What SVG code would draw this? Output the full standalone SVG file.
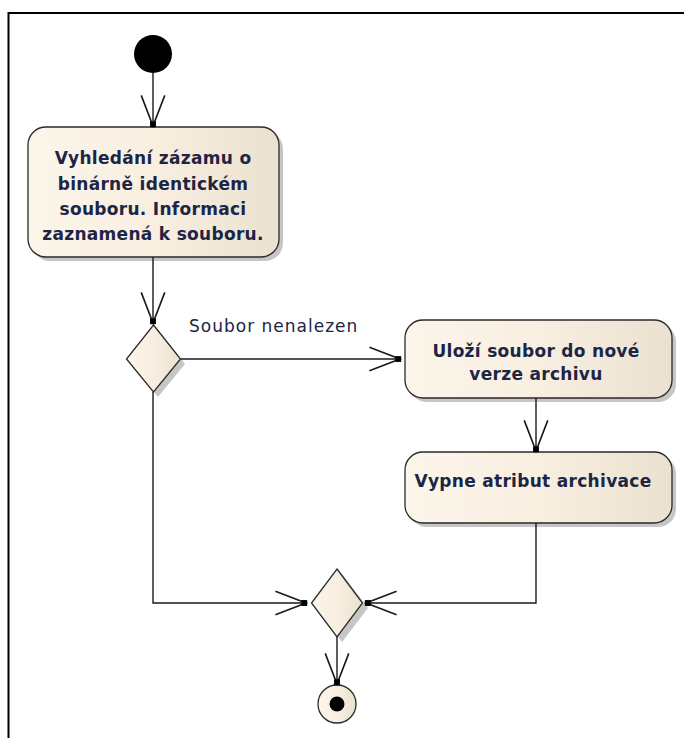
<svg xmlns="http://www.w3.org/2000/svg" width="684" height="738" viewBox="0 0 684 738">
  <style>
    .frame { fill: none; stroke: #000; stroke-width: 2; }
    .node { fill: url(#cream); stroke: #2a2a2a; stroke-width: 1.3; }
    .shadow { fill: #c6c6c6; }
    .edge { fill: none; stroke: #1a1a1a; stroke-width: 1.4; }
    .act { font-family: "DejaVu Sans", Verdana, sans-serif; font-weight: bold; font-size: 17px; letter-spacing: 0.3px; fill: #1c2544; text-anchor: middle; }
    .lbl { font-family: "DejaVu Sans", Verdana, sans-serif; font-size: 17px; letter-spacing: 1px; fill: #1c2544; }
  </style>
  <defs>
    <linearGradient id="cream" x1="0" y1="0" x2="1" y2="0">
      <stop offset="0" stop-color="#fcf5ea"/>
      <stop offset="0.5" stop-color="#f8efe1"/>
      <stop offset="1" stop-color="#ebe1d0"/>
    </linearGradient>
    <marker id="open" markerUnits="userSpaceOnUse" orient="auto" refX="0" refY="0" markerWidth="40" markerHeight="40" viewBox="-30 -15 34 30" overflow="visible">
      <path d="M-26,-10 L0,0 L-26,10" fill="none" stroke="#1a1a1a" stroke-width="1.4"/>
      <rect x="-4" y="-2.5" width="5" height="5" fill="#000"/>
    </marker>
  </defs>

  <rect width="684" height="738" fill="#fff"/>
  <path class="frame" d="M8.5,738 V13 H684"/>

  <g id="start">
    <circle cx="153" cy="54" r="19" fill="#000"/>
  </g>

  <g id="find-record">
    <rect class="shadow" x="32" y="131" width="251" height="130" rx="18"/>
    <rect class="node" x="28" y="127" width="251" height="130" rx="18"/>
    <text class="act" x="153" y="164">Vyhledání zázamu o</text>
    <text class="act" x="153" y="189.5">binárně identickém</text>
    <text class="act" x="153" y="215">souboru. Informaci</text>
    <text class="act" x="153" y="240">zaznamená k souboru.</text>
  </g>

  <g id="decision">
    <path class="shadow" d="M158,330 L185,364 L158,397 L131,364 Z"/>
    <path class="node" d="M153.5,325 L180.5,359 L153.5,392 L126.5,359 Z"/>
  </g>

  <g id="store-file">
    <rect class="shadow" x="409" y="324" width="267" height="78" rx="18"/>
    <rect class="node" x="405" y="320" width="267" height="78" rx="18"/>
    <text class="act" x="536" y="357">Uloží soubor do nové</text>
    <text class="act" x="536" y="380">verze archivu</text>
  </g>

  <g id="clear-archive-bit">
    <rect class="shadow" x="409" y="456" width="267" height="71" rx="18"/>
    <rect class="node" x="405" y="452" width="267" height="71" rx="18"/>
    <text class="act" x="533" y="487">Vypne atribut archivace</text>
  </g>

  <g id="merge">
    <path class="shadow" d="M342,574 L368,608 L342,642 L316,608 Z"/>
    <path class="node" d="M337,569 L362.5,603 L337,637 L311.5,603 Z"/>
  </g>

  <g id="end">
    <circle class="node" cx="337" cy="704" r="19"/>
    <circle cx="337" cy="704" r="7.5" fill="#000"/>
  </g>

  <g id="connectors">
    <path class="edge" d="M153,73 V126" marker-end="url(#open)"/>
    <path class="edge" d="M153,257 V323" marker-end="url(#open)"/>
    <path class="edge" d="M181,359 H400" marker-end="url(#open)"/>
    <text class="lbl" x="189" y="332">Soubor nenalezen</text>
    <path class="edge" d="M536,398 V451" marker-end="url(#open)"/>
    <path class="edge" d="M536,523 V603 H366" marker-end="url(#open)"/>
    <path class="edge" d="M153,392 V603 H306" marker-end="url(#open)"/>
    <path class="edge" d="M337,637 V684" marker-end="url(#open)"/>
  </g>
</svg>
